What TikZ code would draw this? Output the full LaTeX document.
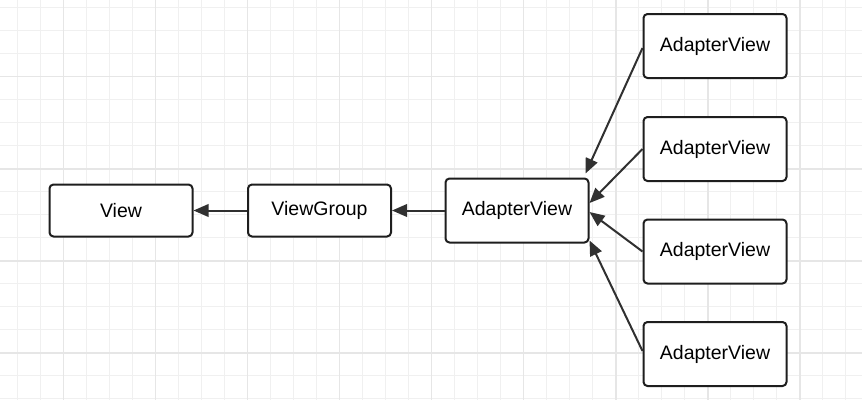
\documentclass[tikz,border=0pt]{standalone}
\usepackage{fontspec}
\setmainfont{Liberation Sans}
\usetikzlibrary{arrows.meta}
\definecolor{gridminor}{HTML}{F0F0F0}
\definecolor{gridmajor}{HTML}{E6E6E6}
\definecolor{ink}{HTML}{1E1E1E}
\definecolor{arrowc}{HTML}{303030}
\tikzset{
  box/.style={draw=ink, line width=2pt, rounded corners=4pt, fill=white,
    minimum width=143pt, inner sep=0pt, font=\fontsize{19.5}{23}\selectfont},
  shortbox/.style={box, minimum height=52pt},
  tallbox/.style={box, minimum height=64pt},
  link/.style={draw=arrowc, line width=2pt, -{Triangle[length=15pt,width=12.5pt]}},
}
\begin{document}
\begin{tikzpicture}[x=1pt,y=-1pt]
\useasboundingbox (0,0) rectangle (862,400);
\fill[white] (0,0) rectangle (862,400);
% grid
\foreach \k in {0,...,37} {
  \draw[gridminor, line width=1pt] ({17.26+23.02*\k},0) -- ({17.26+23.02*\k},400);
}
\foreach \k in {0,...,17} {
  \draw[gridminor, line width=1pt] (0,{7.6+23.02*\k}) -- (862,{7.6+23.02*\k});
}
\foreach \k in {0,...,9} {
  \draw[gridmajor, line width=1.5pt] ({-28.8+92.09*\k},0) -- ({-28.8+92.09*\k},400);
}
\foreach \k in {0,...,4} {
  \draw[gridmajor, line width=1.5pt] (0,{-15.4+92.09*\k}) -- (862,{-15.4+92.09*\k});
}
% nodes
\node[shortbox] (view) at (121,210.5) {View};
\node[shortbox] (vg) at (319.5,210.5) {ViewGroup};
\node[tallbox] (av) at (517,210.5) {AdapterView};
\node[tallbox] (r1) at (715,46) {AdapterView};
\node[tallbox] (r2) at (715,149) {AdapterView};
\node[tallbox] (r3) at (715,251.5) {AdapterView};
\node[tallbox] (r4) at (715,354) {AdapterView};
% connectors
\draw[link] (vg.west) -- (view.east);
\draw[link] (av.west) -- (vg.east);
\draw[link] ([yshift=-2pt]r1.west) -- ([xshift=-4pt,yshift=4pt]av.north east);
\draw[link] (r2.west) -- ([yshift=7.5pt]av.east);
\draw[link] (r3.west) -- ([yshift=-1.5pt]av.east);
\draw[link] ([yshift=3pt]r4.west) -- ([yshift=3pt]av.south east);
\end{tikzpicture}
\end{document}
